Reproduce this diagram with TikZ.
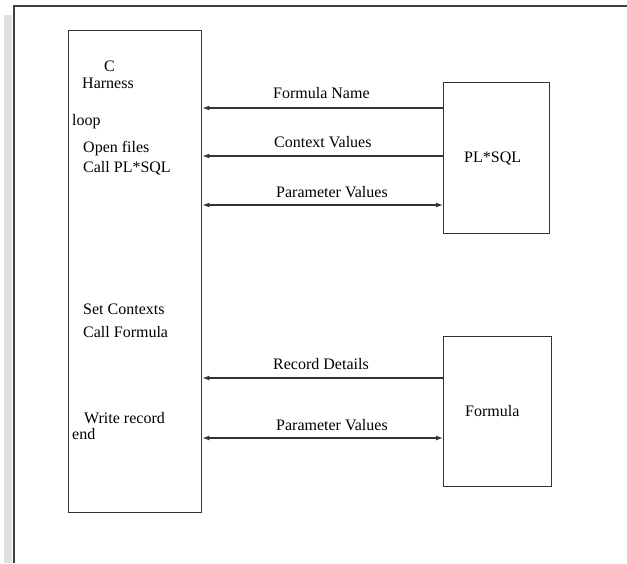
\documentclass[tikz,border=0pt]{standalone}
\usepackage{fontspec}
\setmainfont{Liberation Serif}
\usetikzlibrary{arrows.meta}
\begin{document}
\begin{tikzpicture}[x=1pt,y=-1pt,
  box/.style={draw=black!80,line width=1.4pt,inner sep=0pt,anchor=north west},
  arr/.style={draw=black!80,line width=1.3pt,-{Latex[length=7pt,width=5pt]}},
  darr/.style={draw=black!80,line width=1.3pt,{Latex[length=7pt,width=5pt]}-{Latex[length=7pt,width=5pt]}},
  txt/.style={anchor=base west,inner sep=0pt,font=\fontsize{16}{18}\selectfont,text=black}]
\useasboundingbox (0,0) rectangle (627,563);
\fill[black!12] (4,15) rectangle (12,563);
\draw[black!75,line width=2pt] (14,563) -- (14,6) -- (627,6);
\node[box,minimum width=133pt,minimum height=482pt] (harness) at (68,30) {};
\node[box,minimum width=106pt,minimum height=151pt] (plsql) at (443,82) {};
\node[box,minimum width=108pt,minimum height=150pt] (formula) at (443,336) {};
\node[txt] (tC) at (104,71) {C};
\node[txt] (tHarness) at (82,88) {Harness};
\node[txt] (tloop) at (72,125) {loop};
\node[txt] (topen) at (83,152) {Open files};
\node[txt] (tcallpl) at (83,172) {Call PL*SQL};
\node[txt] (tset) at (83,314) {Set Contexts};
\node[txt] (tcallf) at (83,337) {Call Formula};
\node[txt] (twrite) at (84,423) {Write record};
\node[txt] (tend) at (72,439) {end};
\node[txt] (tpl) at (464,162) {PL*SQL};
\node[txt] (tformula) at (465,416) {Formula};
\coordinate (y1) at (0,108);
\coordinate (y2) at (0,156);
\coordinate (y3) at (0,205);
\coordinate (y4) at (0,378);
\coordinate (y5) at (0,438);
\draw[arr] (plsql.west |- y1) -- (harness.east |- y1);
\draw[arr] (plsql.west |- y2) -- (harness.east |- y2);
\draw[darr] (harness.east |- y3) -- (plsql.west |- y3);
\draw[arr] (formula.west |- y4) -- (harness.east |- y4);
\draw[darr] (harness.east |- y5) -- (formula.west |- y5);
\node[txt] (l1) at (273,98) {Formula Name};
\node[txt] (l2) at (274,147) {Context Values};
\node[txt] (l3) at (276,197) {Parameter Values};
\node[txt] (l4) at (273,369) {Record Details};
\node[txt] (l5) at (276,430) {Parameter Values};
\end{tikzpicture}
\end{document}
